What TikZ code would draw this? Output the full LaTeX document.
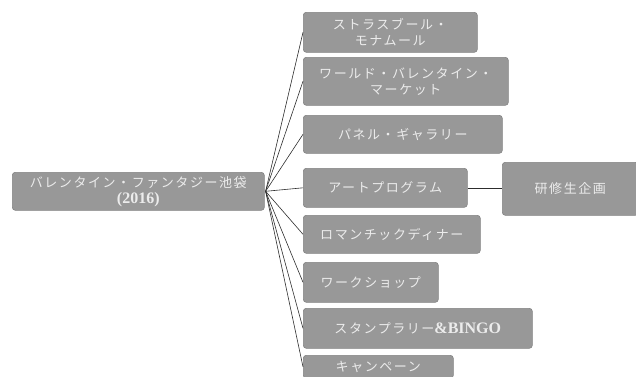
\documentclass[tikz,border=0pt]{standalone}
\usepackage{fontspec}
\setmainfont{Liberation Serif}
\newfontfamily\jpfont[LetterSpace=12]{Noto Sans CJK JP}
\definecolor{boxfill}{RGB}{152,152,152}
\definecolor{boxedge}{RGB}{130,130,130}
\definecolor{txt}{RGB}{236,236,236}
\definecolor{lin}{RGB}{45,45,45}
\newcommand{\lat}[1]{{\rmfamily\bfseries\fontsize{16}{16}\selectfont #1}}
\begin{document}
\begin{tikzpicture}[x=1pt,y=-1pt,
  itembox/.style={draw=boxedge,fill=boxfill,rounded corners=3pt,anchor=north west,
    inner sep=0pt,align=center,text=txt,font=\jpfont\fontsize{13}{16}\selectfont,line width=0.6pt},
  link/.style={draw=lin,line width=0.6pt}]
\useasboundingbox (0,0) rectangle (636,376);
\clip (0,0) rectangle (636,376);
\node[itembox,minimum width=252pt,minimum height=38pt] (root) at (12,172) {バレンタイン・ファンタジー池袋\\\lat{(2016)}};
\node[itembox,minimum width=174pt,minimum height=40pt] (n1) at (303,12) {ストラスブール・\\モナムール};
\node[itembox,minimum width=205pt,minimum height=48pt] (n2) at (303,57) {ワールド・バレンタイン・\\マーケット};
\node[itembox,minimum width=199pt,minimum height=38pt] (n3) at (303,115) {パネル・ギャラリー};
\node[itembox,minimum width=164pt,minimum height=39pt] (n4) at (303,168) {アートプログラム};
\node[itembox,minimum width=136pt,minimum height=53pt] (n5) at (502,162) {研修生企画};
\node[itembox,minimum width=177pt,minimum height=38pt] (n6) at (303,215) {ロマンチックディナー};
\node[itembox,minimum width=135pt,minimum height=40pt] (n7) at (303,262) {ワークショップ};
\node[itembox,minimum width=229pt,minimum height=40pt] (n8) at (303,308) {スタンプラリー\lat{\&BINGO}};
\node[itembox,minimum width=150pt,minimum height=23pt] (n9) at (303,355) {キャンペーン};
\coordinate (hub) at ([xshift=1pt]root.east);
\foreach \n in {n1,n2,n3,n4,n6,n7,n8,n9} \draw[link] (hub) -- (\n.west);
\draw[link] (n4.east) -- (n4.east -| n5.west);
\end{tikzpicture}
\end{document}
